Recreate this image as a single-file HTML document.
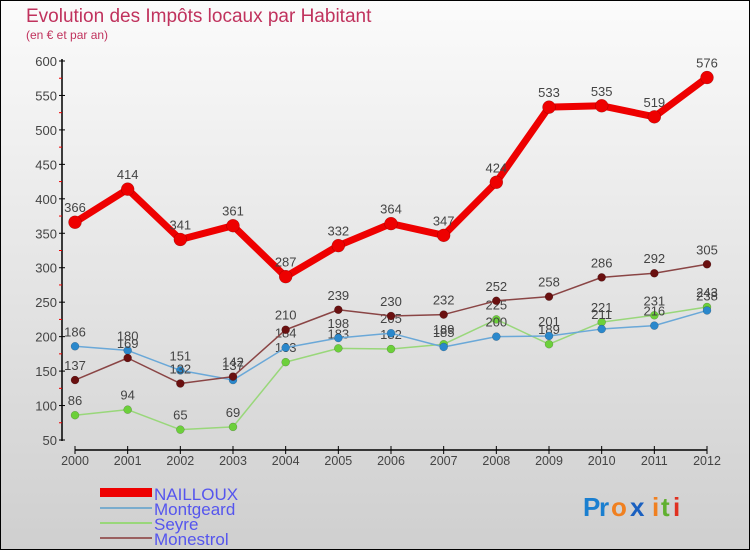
<!DOCTYPE html>
<html><head><meta charset="utf-8">
<style>
body{margin:0;}
#wrap{width:750px;height:550px;position:relative;box-sizing:border-box;border:1px solid #000;background:linear-gradient(#fbfbfb,#cfcfcf);font-family:"Liberation Sans",sans-serif;overflow:hidden;}
</style></head>
<body>
<div id="wrap">
<svg id="chart" width="750" height="550" style="position:absolute;left:-1px;top:-1px">
<text x="26" y="22" font-size="19" fill="#c0325d">Evolution des Impôts locaux par Habitant</text>
<text x="26" y="39" font-size="12" fill="#c0325d">(en € et par an)</text>
<g id="axes"></g>
<g id="series"></g>
<g>
<rect x="100" y="488" width="52" height="9" fill="#e00"/>
<text x="154" y="500" font-size="17" fill="#5555ee">NAILLOUX</text>
<rect x="100" y="507" width="52" height="2" fill="#7aaccd"/>
<text x="154" y="515" font-size="17" fill="#5555ee">Montgeard</text>
<rect x="100" y="522" width="52" height="2" fill="#99d77a"/>
<text x="154" y="530" font-size="17" fill="#5555ee">Seyre</text>
<rect x="100" y="537" width="52" height="2" fill="#9a6060"/>
<text x="154" y="545" font-size="17" fill="#5555ee">Monestrol</text>
</g>
<g font-size="26" font-weight="bold">
<text x="583" y="516" fill="#1a7fd0">P</text><text x="599" y="516" fill="#1a7fd0">r</text><text x="611" y="516" fill="#f08020">o</text><text x="630" y="516" fill="#1a60c0">x</text><text x="652" y="516" fill="#f08020">i</text><text x="661" y="516" fill="#60b030">t</text><text x="673" y="516" fill="#e03020">i</text>
</g>
</svg>
</div>
<script>
const years=[2000,2001,2002,2003,2004,2005,2006,2007,2008,2009,2010,2011,2012];
const nailloux=[366,414,341,361,287,332,364,347,424,533,535,519,576];
const montgeard=[186,180,151,137,184,198,205,185,200,201,211,216,238];
const seyre=[86,94,65,69,163,183,182,189,225,189,221,231,243];
const monestrol=[137,169,132,142,210,239,230,232,252,258,286,292,305];
const yTicks=[50,100,150,200,250,300,350,400,450,500,550,600];
const NS="http://www.w3.org/2000/svg";
const x=i=>75+i*(707-75)/12;
const y=v=>440-(v-50)*(440-61)/550;
function mk(t,a,p){const e=document.createElementNS(NS,t);for(const k in a)e.setAttribute(k,a[k]);p.appendChild(e);return e;}
const ax=document.getElementById('axes');
let l=mk('line',{x1:62,y1:59,x2:62,y2:441,stroke:'#000','stroke-width':1.5},ax);


l=mk('line',{x1:75,y1:450,x2:707,y2:450,stroke:'#000','stroke-width':1.5},ax);


yTicks.forEach(v=>{
  mk('line',{x1:59,x2:65,y1:y(v),y2:y(v),stroke:'#000'},ax);
  if(v<600)mk('line',{x1:59,x2:62,y1:y(v+25),y2:y(v+25),stroke:'#e00'},ax);
  const t=mk('text',{x:57,y:y(v)+5,'font-size':13,fill:'#444','text-anchor':'end'},ax);
  t.textContent=v;
  
  
});
years.forEach((yr,i)=>{
  mk('line',{x1:x(i),x2:x(i),y1:446,y2:454,stroke:'#000'},ax);
  const t=mk('text',{x:x(i),y:465,'font-size':12.5,fill:'#444','text-anchor':'middle'},ax);
  t.textContent=yr;
  
  
});
const sg=document.getElementById('series');
function draw(data,name,color,dot,w,r){
  const g=mk('g',{},sg);
  
  
  const p=mk('polyline',{points:data.map((v,i)=>x(i)+','+y(v)).join(' '),fill:'none',stroke:color,'stroke-width':w,'stroke-linejoin':'round'},g);
  
  
  data.forEach((v,i)=>{
    const c=mk('circle',{cx:x(i),cy:y(v),r:r,fill:dot,stroke:'rgba(0,0,0,0.3)','stroke-width':0.5},g);
    
    
    const t=mk('text',{x:x(i),y:y(v)-10,'font-size':13,fill:'#444','text-anchor':'middle'},g);
    t.textContent=v;
    
    
  });
}
draw(seyre,'seyre','#99d77a','#6cd03a',1.5,4);
draw(montgeard,'montgeard','#6aa8d8','#2a88cc',1.5,4);
draw(monestrol,'monestrol','#8a4545','#6a1010',1.5,4);
draw(nailloux,'nailloux','#ee0000','#ee0000',7,6.5);
</script>
</body></html>
